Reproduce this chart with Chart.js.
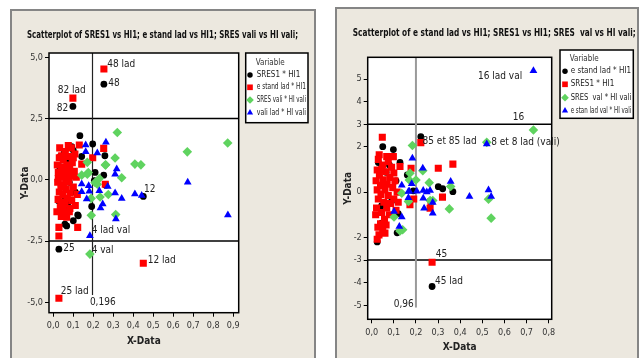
<!DOCTYPE html>
<html>
<head>
<meta charset="utf-8">
<script src="https://cdn.jsdelivr.net/npm/chart.js@4.4.1/dist/chart.umd.min.js"></script>
<style>
html, body { margin: 0; padding: 0; background: #fff; }
body { width: 641px; height: 358px; position: relative; overflow: hidden; }
.panel { position: absolute; background: #ece8df; border: 2px solid #858585; box-sizing: border-box; }
.panel canvas { position: absolute; left: 0; top: 0; }
</style>
</head>
<body>
<div class="panel" style="left:10px;top:9px;width:306px;height:362px"><canvas id="left" width="302" height="347"></canvas></div>
<div class="panel" style="left:335px;top:7px;width:304px;height:364px"><canvas id="right" width="300" height="349"></canvas></div>
<script>
const FONT = "'Liberation Sans Narrow','DejaVu Sans Condensed','Liberation Sans',sans-serif";

// ---- left chart ----
const leftTitle = 'Scatterplot of SRES1 vs HI1; e stand lad vs HI1; SRES vali vs HI vali;';
const leftNames = ['SRES1 * HI1', 'e stand lad * HI1', 'SRES vali * HI vali', 'vali lad * HI vali'];
const leftXTicks = [0, 0.1, 0.2, 0.3, 0.4, 0.5, 0.6, 0.7, 0.8, 0.9];
const leftYTicks = [-5, -2.5, 0, 2.5, 5];

const leftSres1 = [
  [0.253,3.9],[0.098,2.99],[0.45,-0.68],[0.028,-2.83],
  [0.133,1.8],[0.092,1.35],[0.197,1.46],[0.142,0.95],[0.258,0.98],[0.209,0.3],[0.252,0.19],
  [0.205,-0.04],[0.262,-0.22],[0.192,-1.09],[0.1,-1.67],[0.067,-1.88],[0.125,-1.47],[0.058,-1.81],
  [0.075,-0.92],[0.122,-1.43],[0.03,0.55],[0.04,-0.25],[0.05,0.15],[0.06,-0.75],[0.035,0.95],
  [0.08,0.65],[0.07,-1.15],[0.045,-1.45],[0.09,0.3],[0.025,-0.85],[0.055,1.1],[0.11,-0.5],
  [0.08,-0.1],[0.065,0.85],[0.1,1.2]
];
const leftEstand = [
  [0.253,4.52],[0.098,3.33],[0.45,-3.4],[0.028,-4.83],
  [0.13,1.42],[0.252,1.28],[0.197,0.9],[0.142,0.64],[0.26,-0.18],[0.108,1.05],[0.042,0.98],
  [0.028,-1.94],[0.028,-2.29],[0.122,-1.94],[0.058,-1.33],[0.083,-1.17],[0.067,-1.53],
  [0.02,0.6],[0.025,0.3],[0.022,-0.1],[0.03,-0.5],[0.024,-0.8],[0.03,0.9],[0.035,0.1],[0.038,-0.3],
  [0.04,0.5],[0.042,-0.9],[0.045,0.2],[0.048,-0.6],[0.05,0.8],[0.052,-0.2],[0.055,0.4],[0.058,-1.0],
  [0.06,1.15],[0.062,0.0],[0.065,-0.4],[0.068,0.6],[0.07,-0.75],[0.072,0.25],[0.075,0.95],[0.078,-0.1],
  [0.08,-1.3],[0.082,0.45],[0.085,-0.55],[0.088,0.15],[0.09,1.3],[0.092,-0.85],[0.095,0.7],[0.1,-0.3],
  [0.105,0.35],[0.11,-1.05],[0.115,0.1],[0.018,-1.3],[0.032,1.3],[0.04,-1.5],[0.075,1.4],[0.12,-0.6],
  [0.025,0.05],[0.035,-1.1],[0.05,-1.25],[0.065,0.3],[0.1,0.9]
];
const leftSresVali = [
  [0.32,1.93],[0.309,0.89],[0.408,0.64],[0.438,0.61],[0.67,1.14],[0.872,1.5],[0.262,0.61],[0.17,0.71],
  [0.142,0.19],[0.17,0.23],[0.26,0.6],[0.342,0.08],[0.209,-0.11],[0.22,-0.18],[0.234,-0.7],[0.275,-0.6],
  [0.189,-0.76],[0.19,-1.45],[0.312,-1.42],[0.183,-3.03],[0.175,0.3],[0.23,0.05]
];
const leftValiLad = [
  [0.873,-1.44],[0.672,-0.1],[0.183,-2.28],[0.162,1.42],[0.263,1.53],[0.22,1.09],[0.162,1.14],[0.317,0.44],
  [0.309,0.23],[0.142,-0.17],[0.177,-0.24],[0.142,-0.49],[0.18,-0.47],[0.23,-0.45],[0.272,-0.27],[0.309,-0.54],
  [0.342,-0.76],[0.167,-0.78],[0.408,-0.58],[0.442,-0.64],[0.247,-0.99],[0.236,-1.15],[0.313,-1.6]
];
const leftRefY = [2.5, -2.5];
const leftRefX = 0.196;
const leftNotes = [
  ['48 lad', 0.27, 4.72, 'left'], ['48', 0.275, 3.93, 'left'], ['82 lad', 0.092, 3.66, 'center'],
  ['82', 0.075, 2.93, 'right'], ['12', 0.454, -0.41, 'left'], ['12 lad', 0.472, -3.3, 'left'],
  ['25', 0.05, -2.8, 'left'], ['25 lad', 0.037, -4.57, 'left'], ['4 lad val', 0.192, -2.05, 'left'],
  ['4 val', 0.192, -2.9, 'left'], ['0,196', 0.183, -5.0, 'left']
];

// ---- right chart ----
const rightTitle = 'Scatterplot of e stand lad vs HI1; SRES1 vs HI1; SRES  val vs HI vali;';
const rightNames = ['e stand lad * HI1', 'SRES1 * HI1', 'SRES  val * HI vali', 'e stan lad val * HI vali'];
const rightXTicks = [0, 0.1, 0.2, 0.3, 0.4, 0.5, 0.6, 0.7, 0.8];
const rightYTicks = [-5, -4, -3, -2, 0, 2, 3, 4, 5];

const rightEstand = [
  [0.222,2.45],[0.273,-4.17],[0.05,2.01],[0.098,1.88],[0.128,1.31],[0.03,1.31],[0.065,0.88],[0.161,0.76],
  [0.188,0.06],[0.301,0.24],[0.321,0.15],[0.367,0.02],[0.12,-0.95],[0.045,-1.37],[0.025,-2.2],[0.09,-0.4],
  [0.06,0.3],[0.11,0.5],[0.045,-0.6],[0.08,1.2],[0.115,-1.8]
];
const rightSres1 = [
  [0.222,2.19],[0.273,-3.1],[0.048,2.43],[0.034,1.65],[0.068,1.57],[0.098,1.57],[0.128,1.13],[0.178,1.06],
  [0.301,1.06],[0.367,1.24],[0.025,0.98],[0.19,-0.3],[0.173,-0.56],[0.32,-0.22],[0.268,-0.41],[0.264,-0.71],
  [0.033,-1.89],[0.025,-2.08],[0.06,-1.81],
  [0.02,0.5],[0.025,0.1],[0.03,-0.3],[0.022,-0.7],[0.035,0.75],[0.04,0.3],[0.042,-0.1],[0.045,-0.9],
  [0.05,1.2],[0.052,0.55],[0.055,-0.45],[0.058,-1.2],[0.06,0.1],[0.065,0.9],[0.068,-0.7],[0.07,0.35],
  [0.075,-0.15],[0.08,-1.0],[0.082,0.65],[0.085,-0.5],[0.09,1.1],[0.095,0.2],[0.1,-0.3],[0.105,0.5],
  [0.11,-0.8],[0.115,0.0],[0.12,-0.45],[0.03,1.45],[0.04,-1.4],[0.05,-1.6],[0.065,-1.45],[0.018,-1.0],
  [0.028,-1.55],[0.075,1.35],[0.045,1.0],[0.1,0.85]
];
const rightSresVal = [
  [0.731,2.75],[0.52,2.2],[0.184,2.06],[0.231,0.95],[0.173,0.84],[0.17,0.54],[0.2,0.54],[0.26,0.42],
  [0.357,0.25],[0.264,-0.37],[0.276,-0.37],[0.351,-0.74],[0.528,-0.31],[0.54,-1.15],[0.101,-1.1],
  [0.128,-1.72],[0.14,-1.66],[0.136,-0.05],[0.166,-0.41]
];
const rightEstanVal = [
  [0.731,5.37],[0.52,2.13],[0.184,1.5],[0.231,1.06],[0.181,0.37],[0.136,0.31],[0.17,0.04],[0.204,0.04],
  [0.233,0.07],[0.249,0.01],[0.264,0.07],[0.233,-0.27],[0.166,-0.25],[0.276,-0.46],[0.237,-0.71],
  [0.276,-0.93],[0.357,0.47],[0.442,-0.19],[0.528,0.1],[0.54,-0.19],[0.101,-0.86],[0.136,-1.1],
  [0.125,-1.52],[0.166,0.03]
];
const rightRefY = [3, -3];
const rightRefX = 0.2;
const rightNotes = [
  ['16 lad val', 0.68, 5.13, 'right'], ['16', 0.663, 3.31, 'center'], ['85 et 85 lad', 0.23, 2.26, 'left'],
  ['8 et 8 lad (vali)', 0.54, 2.19, 'left'], ['45', 0.29, -2.74, 'left'], ['45 lad', 0.286, -3.95, 'left'],
  ['0,96', 0.19, -4.95, 'right']
];

// marker look per series slot: black circle, red square, green diamond, blue triangle
const markers = [
  { color: '#000000', style: 'circle', r: 3.4 },
  { color: '#ff0000', style: 'rect', r: 5 },
  { color: '#5fd35f', style: 'rectRot', r: 4.8 },
  { color: '#0000ff', style: 'triangle', r: 4.5 }
];
const commaFmt = v => v.toFixed(1).replace('.', ',');

const decor = {
  id: 'decor',
  beforeDraw(chart) {
    const { ctx, chartArea: a } = chart;
    ctx.save();
    ctx.fillStyle = '#fff';
    ctx.fillRect(a.left, a.top, a.right - a.left, a.bottom - a.top);
    ctx.restore();
  },
  beforeDatasetsDraw(chart, args, o) {
    const { ctx, chartArea: a, scales: { x, y } } = chart;
    ctx.save();
    ctx.strokeStyle = '#000';
    ctx.lineWidth = 1.5;
    o.refY.forEach(v => {
      const py = y.getPixelForValue(v);
      ctx.beginPath(); ctx.moveTo(a.left, py); ctx.lineTo(a.right, py); ctx.stroke();
    });
    const px = x.getPixelForValue(o.refX);
    ctx.strokeStyle = o.vColor;
    ctx.lineWidth = o.vWidth;
    ctx.beginPath(); ctx.moveTo(px, a.top); ctx.lineTo(px, y.getPixelForValue(o.vEnd)); ctx.stroke();
    ctx.restore();
  },
  afterDraw(chart, args, o) {
    const { ctx, chartArea: a, scales: { x, y } } = chart;
    ctx.save();
    // frame
    ctx.strokeStyle = '#000';
    ctx.lineWidth = 1.5;
    ctx.strokeRect(a.left, a.top, a.right - a.left, a.bottom - a.top);
    // point labels
    ctx.fillStyle = '#222';
    ctx.font = '10px ' + FONT;
    ctx.textBaseline = 'middle';
    o.notes.forEach(n => {
      ctx.textAlign = n[3];
      ctx.fillText(n[0], x.getPixelForValue(n[1]), y.getPixelForValue(n[2]));
    });
    // title
    ctx.font = 'bold 11px ' + FONT;
    ctx.textAlign = 'center';
    ctx.fillStyle = '#111';
    ctx.fillText(o.title, o.titleX, o.titleY, o.titleW);
    // legend
    const L = o.legend;
    ctx.fillStyle = '#fff';
    ctx.fillRect(L.x, L.y, L.w, L.h);
    ctx.strokeStyle = '#000';
    ctx.lineWidth = 1.5;
    ctx.strokeRect(L.x, L.y, L.w, L.h);
    ctx.font = '8px ' + FONT;
    ctx.textAlign = 'left';
    ctx.fillStyle = '#333';
    ctx.fillText('Variable', L.textX - 1, L.rows[0]);
    chart.data.datasets.forEach((ds, i) => {
      const m = markers[i];
      const ry = L.rows[i + 1];
      ctx.fillStyle = m.color;
      Chart.helpers.drawPoint(ctx, { pointStyle: m.style, radius: m.r * 0.8, borderWidth: 0, rotation: 0 }, L.markX, ry);
      ctx.fillStyle = '#222';
      ctx.fillText(ds.label, L.textX, ry, L.x + L.w - L.textX - 2);
    });
    ctx.restore();
  }
};

function makeChart(id, names, series, xTicks, yTicks, ranges, layout, deco, yFmt) {
  const datasets = series.map((pts, i) => ({
    label: names[i],
    data: pts.map(p => ({ x: p[0], y: p[1] })),
    backgroundColor: markers[i].color,
    borderWidth: 0,
    pointStyle: markers[i].style,
    pointRadius: markers[i].r,
    order: 4 - i
  }));
  return new Chart(document.getElementById(id), {
    type: 'scatter',
    data: { datasets },
    plugins: [decor],
    options: {
      responsive: false,
      animation: false,
      events: [],
      layout: { padding: layout.padding },
      plugins: { legend: { display: false }, tooltip: { enabled: false }, decor: deco },
      scales: {
        x: {
          type: 'linear', min: ranges.xMin, max: ranges.xMax,
          afterBuildTicks: s => { s.ticks = xTicks.map(v => ({ value: v })); },
          afterFit: s => { s.height = layout.xHeight; },
          ticks: { callback: commaFmt, color: '#333', font: { family: FONT, size: 9 }, padding: 4, maxRotation: 0, autoSkip: false },
          grid: { drawOnChartArea: false, tickLength: 4, color: '#000' },
          border: { display: false },
          title: { display: true, text: 'X-Data', color: '#222', font: { family: FONT, size: 10, weight: 'bold' }, padding: { top: 0, bottom: layout.xTitlePad } }
        },
        y: {
          type: 'linear', min: ranges.yMin, max: ranges.yMax,
          afterBuildTicks: s => { s.ticks = yTicks.map(v => ({ value: v })); },
          afterFit: s => { s.width = layout.yWidth; },
          ticks: { callback: yFmt, color: '#333', font: { family: FONT, size: 9 }, padding: 2, autoSkip: false },
          grid: { drawOnChartArea: false, tickLength: 4, color: '#000' },
          border: { display: false },
          title: { display: true, text: 'Y-Data', color: '#222', font: { family: FONT, size: 10, weight: 'bold' }, padding: { top: layout.yTitlePad, bottom: 0 } }
        }
      }
    }
  });
}

makeChart('left', leftNames, [leftSres1, leftEstand, leftSresVali, leftValiLad], leftXTicks, leftYTicks,
  { xMin: -0.0215, xMax: 0.927, yMin: -5.42, yMax: 5.17 },
  { padding: { top: 42, left: 0, right: 75.3, bottom: 0 }, xHeight: 45.3, yWidth: 37, xTitlePad: 11, yTitlePad: 7 },
  { refY: leftRefY, refX: leftRefX, vEnd: -4.7, vColor: '#222', vWidth: 1.2, notes: leftNotes,
    title: leftTitle, titleX: 150.5, titleY: 24, titleW: 271,
    legend: { x: 233.7, y: 42, w: 62.3, h: 69.7, markX: 238, textX: 244.7, rows: [51.7, 64, 76.3, 89, 101.7] } },
  commaFmt);

makeChart('right', rightNames, [rightEstand, rightSres1, rightSresVal, rightEstanVal], rightXTicks, rightYTicks,
  { xMin: -0.018, xMax: 0.8136, yMin: -5.62, yMax: 5.96 },
  { padding: { top: 48.3, left: 0, right: 85.3, bottom: 0 }, xHeight: 38.7, yWidth: 30.7, xTitlePad: 4.3, yTitlePad: 5 },
  { refY: rightRefY, refX: rightRefX, vEnd: -5.1, vColor: '#9a9a9a', vWidth: 2, notes: rightNotes,
    title: rightTitle, titleX: 157.3, titleY: 24.3, titleW: 283,
    legend: { x: 223, y: 41, w: 73.3, h: 68.3, markX: 228, textX: 233.7, rows: [49.7, 62.3, 75.3, 88.7, 101.7] } },
  v => String(v));
</script>
</body>
</html>
